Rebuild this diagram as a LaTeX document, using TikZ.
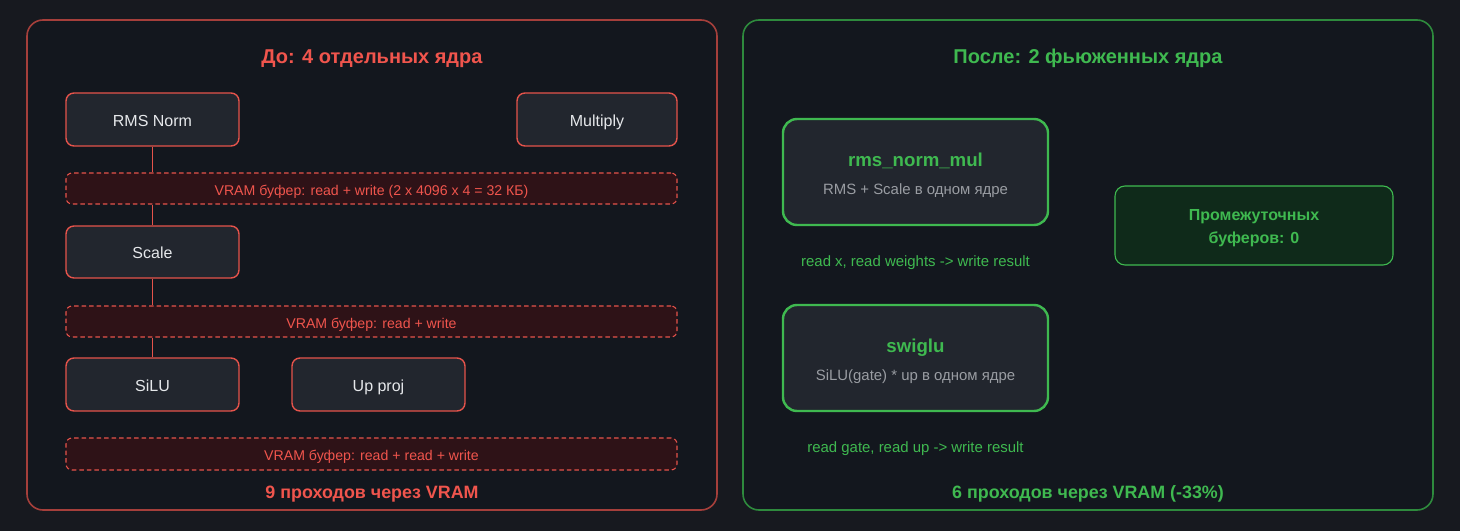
\documentclass[tikz,border=0pt]{standalone}
\usepackage{fontspec}
\setmainfont{Liberation Sans}
\usepackage{xcolor}
\usetikzlibrary{positioning}
\definecolor{bgdark}{HTML}{17191F}
\definecolor{paneldark}{HTML}{13171E}
\definecolor{boxfill}{HTML}{22262E}
\definecolor{redline}{HTML}{E5534B}
\definecolor{redpanel}{HTML}{A53F3B}
\definecolor{redtext}{HTML}{F0554D}
\definecolor{buffill}{HTML}{2E1217}
\definecolor{greenline}{HTML}{3FB950}
\definecolor{greenpanel}{HTML}{2E8A3D}
\definecolor{zerofill}{HTML}{0F2A1A}
\definecolor{graytext}{HTML}{9A9DA3}
\definecolor{whitetext}{HTML}{E6E8EB}
\newlength\pxu
\setlength\pxu{0.75pt}

\begin{document}
\begin{tikzpicture}[x=0.75pt,y=-0.75pt,
    capline/.style={text height=0.98em,text depth=0pt},
    panel/.style={line width=1.6\pxu,rounded corners=16\pxu,fill=paneldark},
    oldop/.style={capline,draw=redline,line width=1.4\pxu,fill=boxfill,rounded corners=8\pxu,
      text=whitetext,font=\fontsize{12}{14}\selectfont,minimum height=53\pxu,
      minimum width=173\pxu,inner sep=0pt},
    vrambuf/.style={capline,draw=redline,line width=1.1\pxu,dash pattern=on 4.5\pxu off 3\pxu,
      fill=buffill,rounded corners=6\pxu,text=redtext,
      font=\fontsize{10.6}{12}\selectfont,minimum width=611\pxu,minimum height=31\pxu,inner sep=0pt},
    fused/.style={draw=greenline,line width=2.4\pxu,fill=boxfill,rounded corners=14\pxu,
      minimum width=265\pxu,minimum height=106\pxu,inner sep=0pt},
    kname/.style={capline,text=greenline,font=\fontsize{14}{16}\selectfont\bfseries},
    kdesc/.style={capline,text=graytext,font=\fontsize{11.2}{13}\selectfont},
    traffic/.style={capline,text=greenline,font=\fontsize{11.2}{13}\selectfont},
    heading/.style={capline,font=\fontsize{15}{18}\selectfont\bfseries},
    footer/.style={capline,font=\fontsize{13.4}{16}\selectfont\bfseries},
    link/.style={draw=redline,line width=1.4\pxu}]

  \fill[bgdark] (0,0) rectangle (1460,531);
  \draw[panel,draw=redpanel] (27,20) rectangle (717,510);
  \draw[panel,draw=greenpanel] (743,20) rectangle (1433,510);

  \node[heading,text=redtext] (before) at (372,57) {До: 4 отдельных ядра};
  \node[oldop] (rms) at (152.5,119.5) {RMS Norm};
  \node[oldop,minimum width=160\pxu] (mul) at (597,119.5) {Multiply};
  \node[vrambuf] (buf1) at (371.5,188.5) {VRAM буфер: read + write (2 x 4096 x 4 = 32 КБ)};
  \node[oldop,minimum height=52\pxu] (scale) at (152.5,252) {Scale};
  \node[vrambuf] (buf2) at (371.5,321.5) {VRAM буфер: read + write};
  \node[oldop] (silu) at (152.5,384.5) {SiLU};
  \node[oldop] (up) at (378.5,384.5) {Up proj};
  \node[vrambuf,minimum height=32\pxu] (buf3) at (371.5,454) {VRAM буфер: read + read + write};
  \node[footer,text=redtext] (passes9) at (372,492) {9 проходов через VRAM};

  \path[link]
    (rms.south) -- (rms.south |- buf1.north)
    (scale.north |- buf1.south) -- (scale.north)
    (scale.south) -- (scale.south |- buf2.north)
    (silu.north |- buf2.south) -- (silu.north);

  \node[heading,text=greenline] (after) at (1088,57) {После: 2 фьюженных ядра};
  \node[fused] (rmsmul) at (915.5,172) {};
  \node[kname] (rmsmulname) at ([yshift=12\pxu]rmsmul.center) {rms\_norm\_mul};
  \node[kdesc] (rmsmuldesc) at ([yshift=-16\pxu]rmsmul.center) {RMS + Scale в одном ядре};
  \node[traffic] (rmsmulio) at (915.5,260) {read x, read weights -> write result};
  \node[draw=greenline,line width=1.1\pxu,fill=zerofill,rounded corners=10\pxu,
    minimum width=278\pxu,minimum height=79\pxu] (nobuf) at (1254,225.5) {};
  \node[align=center,text=greenline,font=\fontsize{12}{17.3}\selectfont\bfseries]
    (nobuftext) at ([yshift=-3\pxu]nobuf.center) {Промежуточных\\буферов: 0};
  \node[fused] (swiglu) at (915.5,358) {};
  \node[kname] (swigluname) at ([yshift=12\pxu]swiglu.center) {swiglu};
  \node[kdesc] (swigludesc) at ([yshift=-16\pxu]swiglu.center) {SiLU(gate) * up в одном ядре};
  \node[traffic] (swigluio) at (915.5,446) {read gate, read up -> write result};
  \node[footer,text=greenline] (passes6) at (1088,492) {6 проходов через VRAM (-33\%)};
\end{tikzpicture}
\end{document}
